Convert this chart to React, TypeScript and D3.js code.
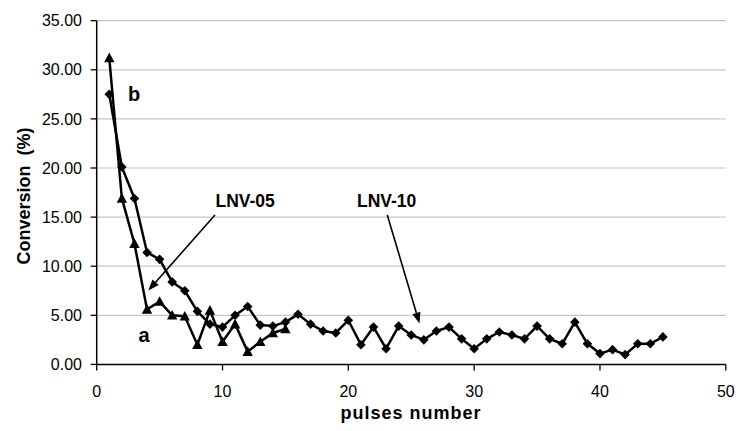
import React from "react";
import * as d3 from "d3";

// Conversion (%) per pulse, pulse number = index + 1
const lnv10: number[] = [
  27.5, 20.1, 16.9, 11.4, 10.7, 8.4, 7.5, 5.4, 4.1, 3.8,
  5.0, 5.9, 4.0, 3.9, 4.3, 5.1, 4.1, 3.4, 3.2, 4.5,
  2.0, 3.8, 1.6, 3.9, 3.0, 2.5, 3.4, 3.8, 2.6, 1.6,
  2.6, 3.3, 3.0, 2.6, 3.9, 2.6, 2.1, 4.3, 2.1, 1.1,
  1.5, 1.0, 2.1, 2.1, 2.8,
];
const lnv05: number[] = [
  31.2, 16.9, 12.3, 5.6, 6.4, 5.0, 4.9, 2.0, 5.5, 2.3,
  4.1, 1.3, 2.3, 3.2, 3.6,
];
const xTicks: number[] = [0, 10, 20, 30, 40, 50];
const yTicks: number[] = [0, 5, 10, 15, 20, 25, 30, 35];

const FONT = "'Liberation Sans', Arial, sans-serif";

export default function App() {
  const W = 736;
  const H = 431;
  const x = d3.scaleLinear().domain([0, 50]).range([96.7, 725.8]);
  const y = d3.scaleLinear().domain([0, 35]).range([364.4, 20.7]);

  const line = d3
    .line<number>()
    .x((_, i) => x(i + 1))
    .y((v) => y(v));

  const diamond = "M0,-4.8L4.8,0L0,4.8L-4.8,0Z";
  const triangle = "M0,-5.4L5.2,4.3L-5.2,4.3Z";

  const arrow = (x1: number, y1: number, x2: number, y2: number) => {
    const dx = x2 - x1;
    const dy = y2 - y1;
    const len = Math.hypot(dx, dy);
    const ux = dx / len;
    const uy = dy / len;
    const hl = 11;
    const hw = 4.2;
    const bx = x2 - ux * hl;
    const by = y2 - uy * hl;
    const pts = [
      [x2, y2],
      [bx - uy * hw, by + ux * hw],
      [bx + uy * hw, by - ux * hw],
    ];
    return (
      <g>
        <line x1={x1} y1={y1} x2={bx} y2={by} stroke="#000" strokeWidth={1.6} />
        <polygon points={pts.map((p) => p.join(",")).join(" ")} fill="#000" />
      </g>
    );
  };

  const fmt = d3.format(".2f");

  return (
    <svg
      width={W}
      height={H}
      style={{ position: "absolute", left: 0, top: 0, background: "#fff" }}
      fontFamily={FONT}
    >
      <rect x={0} y={0} width={W} height={H} fill="#fff" />
      {/* horizontal gridlines */}
      {yTicks
        .filter((t) => t > 0)
        .map((t) => (
          <line
            key={"g" + t}
            x1={x(0)}
            x2={x(50)}
            y1={y(t)}
            y2={y(t)}
            stroke="#c6c6c6"
            strokeWidth={1.2}
          />
        ))}
      {/* y axis */}
      <line x1={x(0)} x2={x(0)} y1={y(35)} y2={y(0)} stroke="#000" strokeWidth={1.5} />
      {yTicks.map((t) => (
        <g key={"y" + t}>
          <line x1={x(0) - 6} x2={x(0)} y1={y(t)} y2={y(t)} stroke="#000" strokeWidth={1.3} />
          <text x={82} y={y(t)} dy="0.35em" textAnchor="end" fontSize={16} fill="#000">
            {fmt(t)}
          </text>
        </g>
      ))}
      {/* x axis */}
      <line x1={x(0)} x2={x(50)} y1={y(0)} y2={y(0)} stroke="#000" strokeWidth={1.5} />
      {xTicks.map((t) => (
        <g key={"x" + t}>
          <line x1={x(t)} x2={x(t)} y1={y(0)} y2={y(0) + 6} stroke="#000" strokeWidth={1.3} />
          <text x={x(t)} y={396.5} textAnchor="middle" fontSize={16} fill="#000">
            {t}
          </text>
        </g>
      ))}
      {/* axis titles */}
      <text
        x={411}
        y={419}
        textAnchor="middle"
        fontSize={18}
        fontWeight="bold"
        letterSpacing={1}
        fill="#000"
      >
        pulses number
      </text>
      <text
        transform={`translate(30,196) rotate(-90)`}
        textAnchor="middle"
        fontSize={18}
        fontWeight="bold"
        fill="#000"
        style={{ whiteSpace: "pre" }}
      >
        {"Conversion  (%)"}
      </text>

      {/* series */}
      <path d={line(lnv10) || ""} fill="none" stroke="#000" strokeWidth={2.5} strokeLinejoin="round" />
      <path d={line(lnv05) || ""} fill="none" stroke="#000" strokeWidth={2.5} strokeLinejoin="round" />
      {lnv10.map((v, i) => (
        <path key={"d" + i} d={diamond} transform={`translate(${x(i + 1)},${y(v)})`} fill="#000" />
      ))}
      {lnv05.map((v, i) => (
        <path key={"t" + i} d={triangle} transform={`translate(${x(i + 1)},${y(v)})`} fill="#000" />
      ))}

      {/* annotations */}
      <text x={128} y={101} fontSize={20} fontWeight="bold" fill="#000">b</text>
      <text x={138.5} y={341.7} fontSize={20} fontWeight="bold" fill="#000">a</text>
      <text x={215.5} y={207.3} fontSize={17.5} fontWeight="bold" fill="#000">LNV-05</text>
      <text x={357} y={207.3} fontSize={17.5} fontWeight="bold" fill="#000">LNV-10</text>
      {arrow(215, 215, 148.3, 290.5)}
      {arrow(387.3, 215, 419.5, 323.5)}
    </svg>
  );
}
